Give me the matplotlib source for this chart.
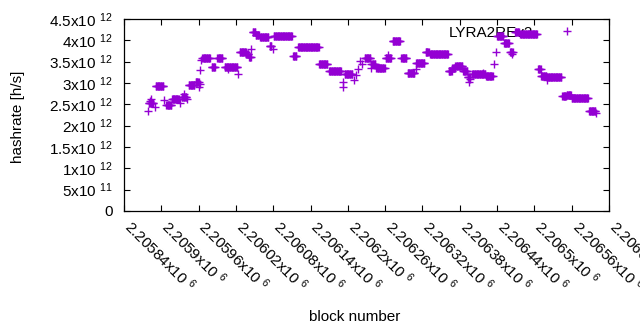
import numpy as np
import matplotlib
matplotlib.use("Agg")
import matplotlib.pyplot as plt
from matplotlib.transforms import ScaledTranslation

plt.rcParams['font.family'] = ['Liberation Sans', 'DejaVu Sans']
plt.rcParams['mathtext.fontset'] = 'custom'
plt.rcParams['mathtext.rm'] = 'Liberation Sans'
plt.rcParams['mathtext.it'] = 'Liberation Sans'

# runs of consecutive blocks with a constant hashrate estimate
run_start = [2205880, 2205891, 2205908, 2205917, 2205933, 2205944, 2205955, 2205966,
             2205981, 2205990, 2206002, 2206026, 2206037, 2206041, 2206047, 2206052,
             2206059, 2206074, 2206081, 2206112, 2206120, 2206154, 2206170, 2206195,
             2206227, 2206238, 2206246, 2206261, 2206272, 2206286, 2206296, 2206310,
             2206325, 2206332, 2206362, 2206368, 2206373, 2206385, 2206393, 2206400,
             2206412, 2206422, 2206440, 2206451, 2206461, 2206469, 2206477, 2206506,
             2206511, 2206520, 2206545, 2206552, 2206560, 2206588]
run_end = [2205887, 2205903, 2205916, 2205928, 2205940, 2205953, 2205960, 2205978,
           2205986, 2205998, 2206022, 2206036, 2206040, 2206044, 2206051, 2206057,
           2206072, 2206077, 2206110, 2206117, 2206153, 2206167, 2206189, 2206207,
           2206236, 2206244, 2206259, 2206269, 2206284, 2206294, 2206307, 2206323,
           2206330, 2206361, 2206367, 2206372, 2206384, 2206392, 2206396, 2206411,
           2206421, 2206433, 2206450, 2206459, 2206465, 2206475, 2206504, 2206510,
           2206519, 2206543, 2206551, 2206559, 2206586, 2206598]
run_rate = [2.52e12, 2.93e12, 2.48e12, 2.62e12, 2.68e12, 2.95e12, 3.02e12, 3.58e12,
            3.37e12, 3.58e12, 3.37e12, 3.72e12, 3.67e12, 3.62e12, 4.19e12, 4.13e12,
            4.07e12, 3.87e12, 4.09e12, 3.63e12, 3.84e12, 3.44e12, 3.28e12, 3.22e12,
            3.58e12, 3.44e12, 3.34e12, 3.58e12, 3.98e12, 3.58e12, 3.23e12, 3.48e12,
            3.73e12, 3.69e12, 3.27e12, 3.35e12, 3.40e12, 3.28e12, 3.15e12, 3.22e12,
            3.21e12, 3.16e12, 4.10e12, 3.94e12, 3.73e12, 4.19e12, 4.14e12, 3.32e12,
            3.16e12, 3.13e12, 2.70e12, 2.73e12, 2.64e12, 2.34e12]

# isolated blocks
single_block = [2205879, 2205882, 2205883, 2205890, 2205905, 2205930, 2205936, 2205941,
                2205961, 2205962, 2205963, 2205964, 2206007, 2206023, 2206045, 2206079,
                2206192, 2206193, 2206210, 2206213, 2206217, 2206219, 2206223, 2206237,
                2206264, 2206309, 2206395, 2206397, 2206417, 2206435, 2206439, 2206464,
                2206521, 2206599]
single_rate = [2.35e12, 2.58e12, 2.62e12, 2.43e12, 2.60e12, 2.53e12, 2.75e12, 2.62e12,
               2.91e12, 3.30e12, 2.97e12, 3.55e12, 3.32e12, 3.20e12, 3.80e12, 3.80e12,
               3.03e12, 2.91e12, 3.07e12, 3.19e12, 3.33e12, 3.52e12, 3.44e12, 3.34e12,
               3.66e12, 3.33e12, 3.03e12, 3.10e12, 3.24e12, 3.44e12, 3.72e12, 3.68e12,
               3.08e12, 2.30e12]

xticks = [2205840 + 60 * i for i in range(14)]
xtick_labels = ['2.20584', '2.2059', '2.20596', '2.20602', '2.20608', '2.20614', '2.2062',
                '2.20626', '2.20632', '2.20638', '2.20644', '2.2065', '2.20656', '2.20662']
yticks = [0, 0.5e12, 1e12, 1.5e12, 2e12, 2.5e12, 3e12, 3.5e12, 4e12, 4.5e12]
ytick_labels = ['0', r'$\mathregular{5x10\ ^{11}}$', r'$\mathregular{1x10\ ^{12}}$',
                r'$\mathregular{1.5x10\ ^{12}}$', r'$\mathregular{2x10\ ^{12}}$',
                r'$\mathregular{2.5x10\ ^{12}}$', r'$\mathregular{3x10\ ^{12}}$',
                r'$\mathregular{3.5x10\ ^{12}}$', r'$\mathregular{4x10\ ^{12}}$',
                r'$\mathregular{4.5x10\ ^{12}}$']

bx, by = [], []
for s, e, r in zip(run_start, run_end, run_rate):
    for b in range(s, e + 1):
        bx.append(b)
        by.append(r)
bx += single_block
by += single_rate
order = np.argsort(bx)
bx = np.array(bx)[order]
by = np.array(by)[order]

fig = plt.figure(figsize=(6.4, 3.3), dpi=100)
ax = fig.add_axes([124/640, 1 - 211/330, (609-124)/640, (211-19)/330])
ax.plot(bx, by, linestyle='none', marker='+', ms=6, mew=1.0, color='#9400d3',
        label='LYRA2REv2', zorder=3)

ax.set_xlim(2205840, 2206620)
ax.set_ylim(0, 4.5e12)
ax.set_xticks(xticks)
ax.set_xticklabels([r'$\mathregular{%sx10\ ^{6}}$' % t for t in xtick_labels],
                   rotation=-45, ha='left', va='top', rotation_mode='anchor')
ax.set_yticks(yticks)
ax.set_yticklabels(ytick_labels)
ax.tick_params(direction='in', length=4, width=0.8, top=True, right=True,
               labelsize=11, colors='black')
ax.tick_params(axis='y', pad=8)
ax.tick_params(axis='x', pad=4)
shift = ScaledTranslation(0.10, 0.0, fig.dpi_scale_trans)
for lab in ax.get_xticklabels():
    lab.set_transform(lab.get_transform() + shift)
for sp in ax.spines.values():
    sp.set_linewidth(0.9)

ax.set_ylabel('hashrate [h/s]', fontsize=11)
ax.yaxis.set_label_coords(-0.205, 0.49)
ax.set_xlabel('block number', fontsize=11)
ax.xaxis.set_label_coords(0.476, -0.515)

leg = ax.legend(loc='upper right', bbox_to_anchor=(0.945, 0.965), frameon=False,
                markerfirst=False, handlelength=2.0, handletextpad=1.2,
                borderpad=0, borderaxespad=0, fontsize=11)
leg.set_zorder(1)

fig.savefig('out.png', dpi=100)
